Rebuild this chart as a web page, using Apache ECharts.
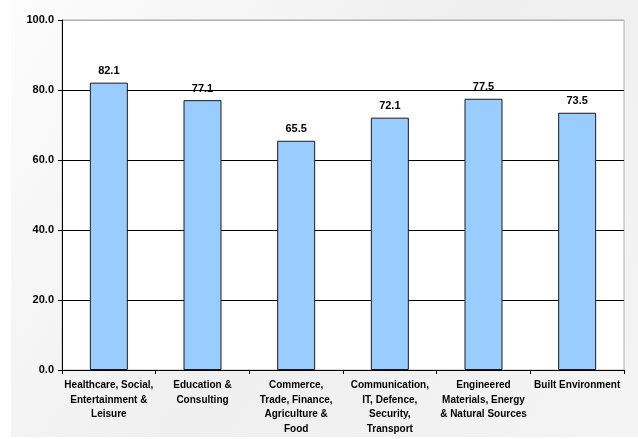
<!DOCTYPE html>
<html>
<head>
<meta charset="utf-8">
<script src="https://cdn.jsdelivr.net/npm/echarts@6/dist/echarts.min.js"></script>
<style>
  html, body { margin: 0; padding: 0; background: #ffffff; }
  #chart { width: 638px; height: 439px; }
</style>
</head>
<body>
<div id="chart"></div>
<script>
// Sector categories (x axis) and their scores
const categories = [
  'Healthcare, Social,\nEntertainment &\nLeisure',
  'Education &\nConsulting',
  'Commerce,\nTrade, Finance,\nAgriculture &\nFood',
  'Communication,\nIT, Defence,\nSecurity,\nTransport',
  'Engineered\nMaterials, Energy\n& Natural Sources',
  'Built Environment'
];
const scores = [82.1, 77.1, 65.5, 72.1, 77.5, 73.5];

// Value axis range
const yMin = 0;
const yMax = 100;
const yStep = 20;

const chart = echarts.init(document.getElementById('chart'), null, { renderer: 'canvas' });

chart.setOption({
  animation: false,
  backgroundColor: '#ffffff',
  graphic: [{
    type: 'rect',
    z: -10,
    shape: { x: 11, y: 0, width: 627, height: 437 },
    style: {
      fill: new echarts.graphic.LinearGradient(0, 0, 1, 1, [
        { offset: 0, color: '#fcfcfc' },
        { offset: 0.5, color: '#efefef' },
        { offset: 1, color: '#f4f4f4' }
      ])
    }
  }],
  grid: {
    left: 62, top: 20, right: 14, bottom: 69,
    show: true,
    backgroundColor: '#ffffff',
    borderColor: '#b0b0b0',
    borderWidth: 1
  },
  xAxis: {
    type: 'category',
    data: categories,
    axisLine: { lineStyle: { color: '#000000', width: 1 } },
    axisTick: { show: true, length: 4, lineStyle: { color: '#000000' } },
    axisLabel: {
      interval: 0,
      color: '#000000',
      fontFamily: 'Arial, "Liberation Sans", sans-serif',
      fontWeight: 'bold',
      fontSize: 10,
      lineHeight: 14.5,
      margin: 8
    }
  },
  yAxis: {
    type: 'value',
    min: yMin,
    max: yMax,
    interval: yStep,
    axisLine: { show: true, lineStyle: { color: '#000000', width: 1 } },
    axisTick: { show: true, length: 4, lineStyle: { color: '#000000' } },
    axisLabel: {
      color: '#000000',
      fontFamily: 'Arial, "Liberation Sans", sans-serif',
      fontWeight: 'bold',
      fontSize: 11,
      margin: 8,
      formatter: v => v.toFixed(1)
    },
    splitLine: {
      show: true,
      lineStyle: { color: ['#000000', '#000000', '#000000', '#000000', '#000000', '#b0b0b0'], width: 1 }
    }
  },
  series: [{
    type: 'bar',
    data: scores,
    barWidth: 38,
    itemStyle: {
      color: '#99ccff',
      borderColor: '#1a1a1a',
      borderWidth: 1
    },
    label: {
      show: true,
      position: 'top',
      distance: 6,
      color: '#000000',
      fontFamily: 'Arial, "Liberation Sans", sans-serif',
      fontWeight: 'bold',
      fontSize: 11,
      formatter: p => p.value.toFixed(1)
    }
  }]
});
</script>
</body>
</html>
